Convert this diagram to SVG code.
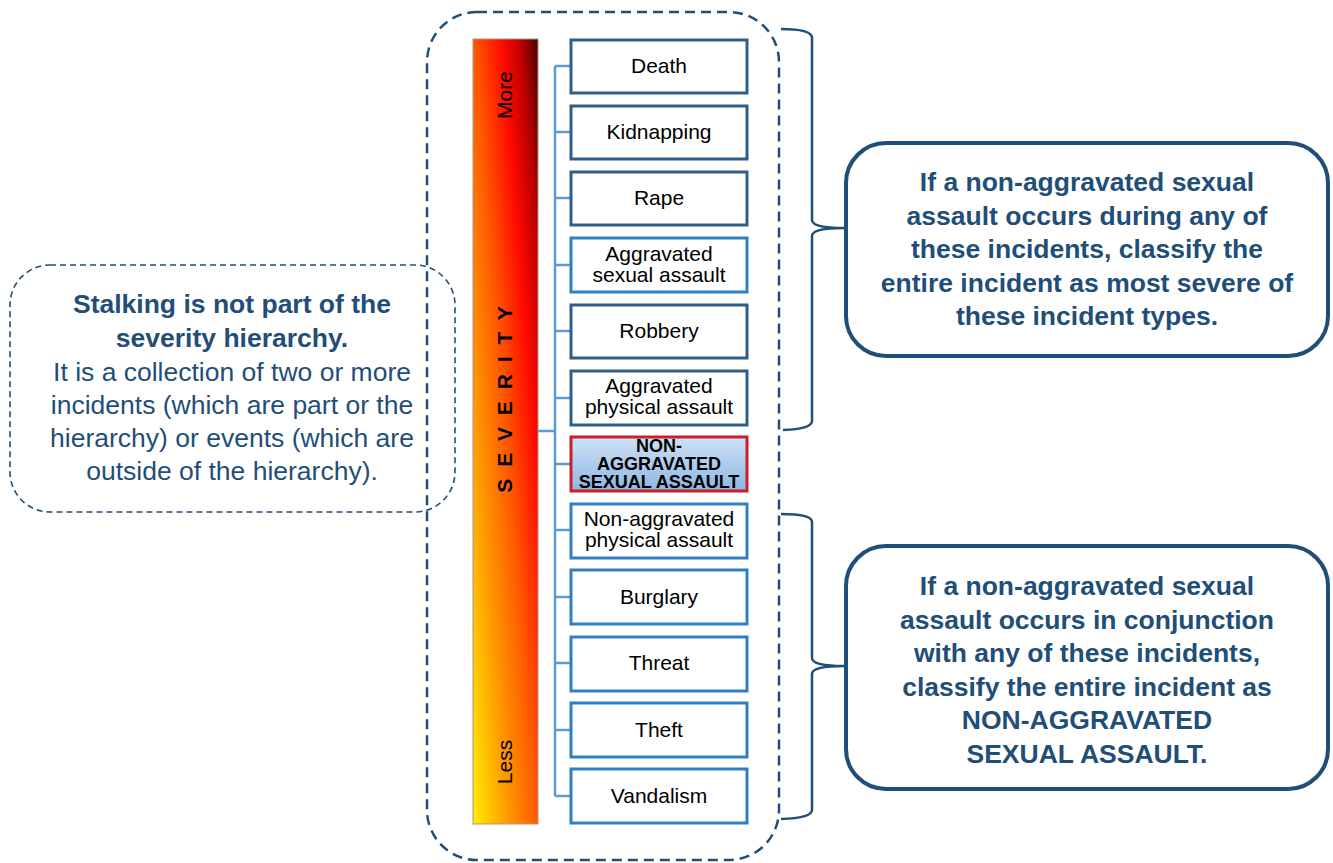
<svg xmlns="http://www.w3.org/2000/svg" width="1333" height="863" viewBox="0 0 1333 863">
<defs>
<linearGradient id="sev" x1="0" y1="1" x2="1" y2="0">
<stop offset="0" stop-color="#ffee00"/>
<stop offset="0.25" stop-color="#ffa000"/>
<stop offset="0.5" stop-color="#ff5a00"/>
<stop offset="0.72" stop-color="#ff0a00"/>
<stop offset="0.86" stop-color="#c00000"/>
<stop offset="1" stop-color="#4a0000"/>
</linearGradient>
<linearGradient id="hl" x1="0" y1="0" x2="0" y2="1">
<stop offset="0" stop-color="#cfe2f5"/>
<stop offset="1" stop-color="#8db6e4"/>
</linearGradient>
<style>
.box{fill:#fff;stroke-width:3}
.dk{stroke:#2f5f88}
.lt{stroke:#2e7fc4}
.bt{font-family:"Liberation Sans",Arial,sans-serif;font-size:21px;fill:#000;text-anchor:middle}
.nt{font-family:"Liberation Sans",Arial,sans-serif;font-size:18px;font-weight:bold;fill:#000;text-anchor:middle}
.note{font-family:"Liberation Sans",Arial,sans-serif;font-size:26.5px;font-weight:bold;fill:#1f4e79;text-anchor:middle}
.noter{font-family:"Liberation Sans",Arial,sans-serif;font-size:26.5px;fill:#1f4e79;text-anchor:middle}
.callout{fill:#fff;stroke:#1f4e79;stroke-width:4}
.conn{fill:none;stroke:#5b9bd5;stroke-width:2.5}
.brace{fill:none;stroke:#1f4e79;stroke-width:2.5}
</style>
</defs>
<rect width="1333" height="863" fill="#fff"/>

<g id="outer-frame">
<rect x="427" y="12" width="352" height="848" rx="50" fill="none" stroke="#1f4e79" stroke-width="2.5" stroke-dasharray="10 6"/>
</g>

<g id="stalking-note">
<rect x="10" y="265" width="445" height="247" rx="40" fill="none" stroke="#1f4e79" stroke-width="1.6" stroke-dasharray="6 4"/>
<text class="note" x="232" y="313">Stalking is not part of the</text>
<text class="note" x="232" y="347">severity hierarchy.</text>
<text class="noter" x="232" y="381">It is a collection of two or more</text>
<text class="noter" x="232" y="414">incidents (which are part or the</text>
<text class="noter" x="232" y="447">hierarchy) or events (which are</text>
<text class="noter" x="232" y="480">outside of the hierarchy).</text>
</g>

<g id="severity-bar">
<rect x="473" y="39" width="65" height="785" fill="url(#sev)" stroke="#a89888" stroke-width="1"/>
<text class="bt" transform="translate(512,95) rotate(-90)" font-size="20">More</text>
<text class="bt" transform="translate(512,762) rotate(-90)" font-size="20">Less</text>
<text transform="translate(512,398) rotate(-90)" font-family="'Liberation Sans',Arial,sans-serif" font-size="21" font-weight="bold" letter-spacing="3" text-anchor="middle" fill="#000">S E V E R I T Y</text>
</g>

<g id="connectors">
<path class="conn" d="M538,431 H555 M555,66 V796 M555,66 H571 M555,132 H571 M555,198 H571 M555,265 H571 M555,331 H571 M555,398 H571 M555,464 H571 M555,530 H571 M555,597 H571 M555,663 H571 M555,730 H571 M555,796 H571"/>
<path class="brace" d="M781,29 Q812,29 812,38 L812,220 Q812,228 844,228 Q812,228 812,236 L812,421 Q812,429 783,430"/>
<path class="brace" d="M781,514 Q812,514 812,522 L812,658 Q812,666 844,666 Q812,666 812,674 L812,810 Q812,818 781,819"/>
</g>

<g id="n-death"><rect class="box dk" x="571" y="40" width="176" height="53"/><text class="bt" x="659" y="73">Death</text></g>
<g id="n-kidnapping"><rect class="box dk" x="571" y="106" width="176" height="53"/><text class="bt" x="659" y="139">Kidnapping</text></g>
<g id="n-rape"><rect class="box dk" x="571" y="172" width="176" height="53"/><text class="bt" x="659" y="205">Rape</text></g>
<g id="n-agg-sexual"><rect class="box lt" x="571" y="238" width="176" height="54"/><text class="bt" x="659" y="261">Aggravated</text><text class="bt" x="659" y="282">sexual assault</text></g>
<g id="n-robbery"><rect class="box dk" x="571" y="305" width="176" height="53"/><text class="bt" x="659" y="338">Robbery</text></g>
<g id="n-agg-physical"><rect class="box dk" x="571" y="371" width="176" height="54"/><text class="bt" x="659" y="393">Aggravated</text><text class="bt" x="659" y="414">physical assault</text></g>
<g id="n-nonagg-sexual"><rect x="571" y="437" width="176" height="54" fill="url(#hl)" stroke="#c8202a" stroke-width="3"/><text class="nt" x="659" y="452">NON-</text><text class="nt" x="659" y="470">AGGRAVATED</text><text class="nt" x="659" y="488">SEXUAL ASSAULT</text></g>
<g id="n-nonagg-physical"><rect class="box lt" x="571" y="504" width="176" height="54"/><text class="bt" x="659" y="526">Non-aggravated</text><text class="bt" x="659" y="547">physical assault</text></g>
<g id="n-burglary"><rect class="box lt" x="571" y="570" width="176" height="54"/><text class="bt" x="659" y="604">Burglary</text></g>
<g id="n-threat"><rect class="box lt" x="571" y="637" width="176" height="54"/><text class="bt" x="659" y="670">Threat</text></g>
<g id="n-theft"><rect class="box lt" x="571" y="703" width="176" height="54"/><text class="bt" x="659" y="737">Theft</text></g>
<g id="n-vandalism"><rect class="box lt" x="571" y="769" width="176" height="54"/><text class="bt" x="659" y="803">Vandalism</text></g>

<g id="callout-upper">
<rect class="callout" x="846" y="143" width="482" height="213" rx="40"/>
<text class="note" x="1087" y="191">If a non-aggravated sexual</text>
<text class="note" x="1087" y="225">assault occurs during any of</text>
<text class="note" x="1087" y="258">these incidents, classify the</text>
<text class="note" x="1087" y="292">entire incident as most severe of</text>
<text class="note" x="1087" y="325">these incident types.</text>
</g>

<g id="callout-lower">
<rect class="callout" x="846" y="546" width="482" height="243" rx="40"/>
<text class="note" x="1087" y="595">If a non-aggravated sexual</text>
<text class="note" x="1087" y="629">assault occurs in conjunction</text>
<text class="note" x="1087" y="662">with any of these incidents,</text>
<text class="note" x="1087" y="696">classify the entire incident as</text>
<text class="note" x="1087" y="729">NON-AGGRAVATED</text>
<text class="note" x="1087" y="763">SEXUAL ASSAULT.</text>
</g>
</svg>
